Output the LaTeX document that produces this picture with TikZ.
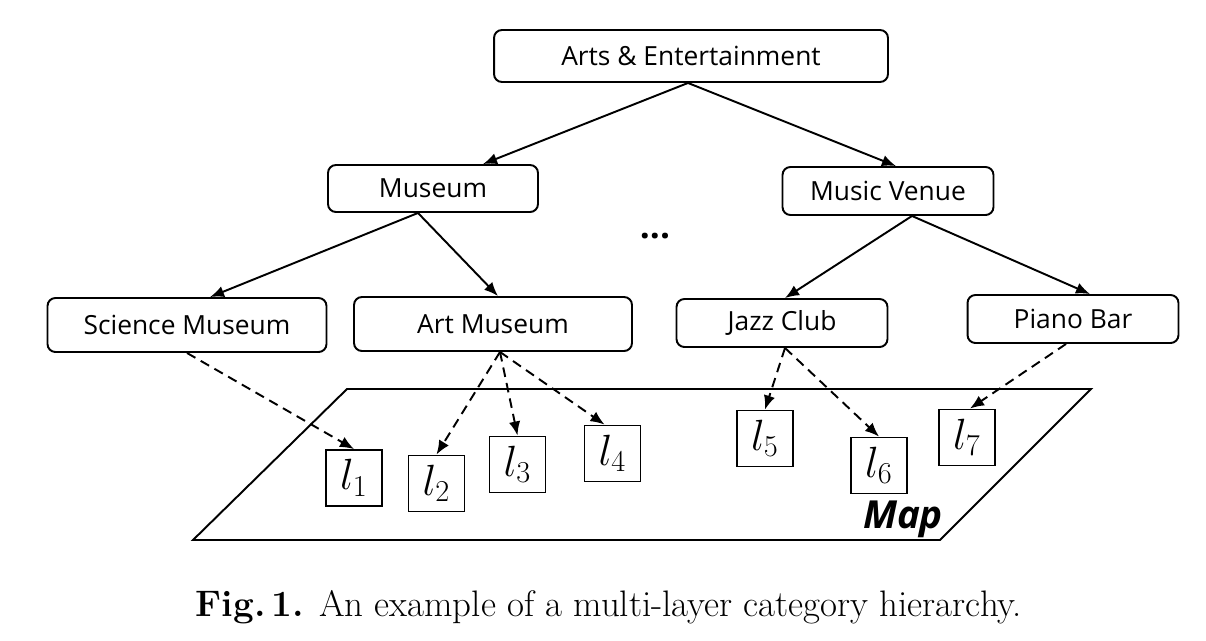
\documentclass[tikz,border=0pt]{standalone}
\usepackage{fontspec}
\setsansfont{Open Sans}
\usepackage{tikz}
\usetikzlibrary{shapes,arrows.meta,positioning,calc}
\tikzstyle{cat} = [draw,rounded corners=4.5pt,line width=1.1pt,inner sep=0pt,font=\sffamily\fontsize{15}{18}\selectfont]
\tikzstyle{loc} = [draw,line width=1.1pt,inner sep=0pt,minimum size=1.12cm,font=\fontsize{26}{30}\selectfont]
\tikzstyle{tree} = [-{Latex[length=8pt,width=6.5pt]},line width=1.1pt]
\tikzstyle{link} = [-{Latex[length=8pt,width=6.5pt]},line width=1.1pt,dash pattern=on 5.5pt off 3.5pt]
\tikzset{>=latex}

\begin{document}
\begin{tikzpicture}[x=0.02cm,y=-0.02cm]
    \useasboundingbox (0,0) rectangle (1206,640);

    % category tree
    \node [cat,minimum width=7.88cm,minimum height=1.04cm] (ae) at (691,56) {Arts \& Entertainment};
    \node [cat,minimum width=4.2cm,minimum height=0.94cm] (mus) at (433,188.5) {Museum};
    \node [cat,minimum width=4.22cm,minimum height=0.96cm] (mv) at (888,191) {Music Venue};
    \node [cat,minimum width=5.58cm,minimum height=1.08cm] (sci) at (187,325) {Science Museum};
    \node [cat,minimum width=5.56cm,minimum height=1.08cm] (art) at (493,324) {Art Museum};
    \node [cat,minimum width=4.22cm,minimum height=0.96cm] (jazz) at (782,323) {Jazz Club};
    \node [cat,minimum width=4.22cm,minimum height=0.96cm] (piano) at (1073,319) {Piano Bar};
    \node [font=\sffamily\bfseries\fontsize{20}{20}\selectfont] (dots) at (655,236) {...};

    \draw [tree] ($(ae.south)+(-3,0)$) -- ($(mus.north)+(50,0)$);
    \draw [tree] ($(ae.south)+(-3,0)$) -- ($(mv.north)+(8,0)$);
    \draw [tree] ($(mus.south)+(-15,0)$) -- ($(sci.north)+(23,0)$);
    \draw [tree] ($(mus.south)+(-15,0)$) -- ($(art.north)+(5,0)$);
    \draw [tree] ($(mv.south)+(24,0)$) -- ($(jazz.north)+(3,0)$);
    \draw [tree] ($(mv.south)+(24,0)$) -- ($(piano.north)+(17,0)$);

    % map plane
    \draw [line width=1.1pt] (347,389) coordinate (p1) -- (1091,389) coordinate (p2)
        -- (940,540) coordinate (p3) -- (193,540) coordinate (p4) -- cycle;
    \node [font=\sffamily\bfseries\itshape\fontsize{22}{22}\selectfont] (map) at (903,519) {Map};

    % locations
    \node [loc] (l1) at (354,478) {$l_1$};
    \node [loc] (l2) at (436.5,483.5) {$l_2$};
    \node [loc] (l3) at (517.5,464.5) {$l_3$};
    \node [loc] (l4) at (612.5,453.5) {$l_4$};
    \node [loc] (l5) at (765,438.5) {$l_5$};
    \node [loc] (l6) at (879,465.5) {$l_6$};
    \node [loc] (l7) at (967,437.5) {$l_7$};

    \draw [link] (sci.south) -- (l1.north);
    \draw [link] ($(art.south)+(7,0)$) -- (l2.north);
    \draw [link] ($(art.south)+(7,0)$) -- (l3.north);
    \draw [link] ($(art.south)+(7,0)$) -- ($(l4.north)+(-8,0)$);
    \draw [link] ($(jazz.south)+(3,0)$) -- (l5.north);
    \draw [link] ($(jazz.south)+(3,0)$) -- (l6.north);
    \draw [link] ($(piano.south)+(-7,0)$) -- ($(l7.north)+(3,0)$);

    \node [font=\fontsize{21}{25}\selectfont] (cap) at (609,607) {\textbf{Fig.\,1.} An example of a multi-layer category hierarchy.};
\end{tikzpicture}
\end{document}
